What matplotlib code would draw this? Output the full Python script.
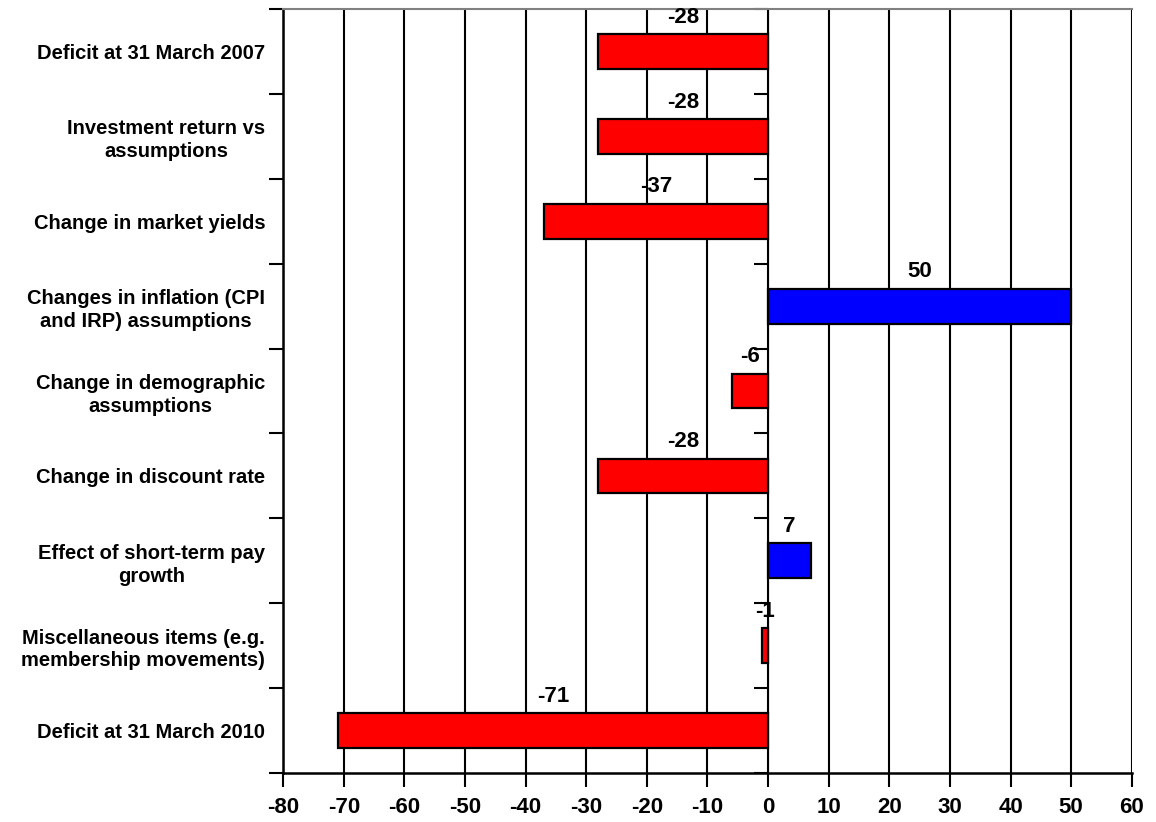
import numpy as np
import matplotlib
matplotlib.use("Agg")
import matplotlib.pyplot as plt

plt.rcParams["font.family"] = ["Liberation Sans", "DejaVu Sans"]
plt.rcParams["font.weight"] = "bold"

# -------- DATA --------
categories = [
    "Deficit at 31 March 2007",
    "Investment return vs\nassumptions",
    "Change in market yields",
    "Changes in inflation (CPI\nand IRP) assumptions",
    "Change in demographic\nassumptions",
    "Change in discount rate",
    "Effect of short-term pay\ngrowth",
    "Miscellaneous items (e.g.\nmembership movements)",
    "Deficit at 31 March 2010",
]
values = [-28, -28, -37, 50, -6, -28, 7, -1, -71]
x_ticks = list(range(-80, 61, 10))

XMIN, XMAX = -80, 60

fig = plt.figure(figsize=(11.56, 8.22), dpi=100)
ax = fig.add_axes([0.245, 0.0596, 0.734, 0.9294])

n = len(categories)
y = np.arange(n)
colors = ["#0000FF" if v > 0 else "#FF0000" for v in values]
ax.barh(y, values, height=0.41, color=colors, edgecolor="black", linewidth=1.6, zorder=3)

for yi, v in zip(y, values):
    ax.text(v / 2, yi - 0.28, str(v), ha="center", va="bottom",
            fontsize=16, fontweight="bold", zorder=4)

ax.set_xlim(XMIN, XMAX)
ax.set_ylim(n - 0.5, -0.5)
ax.set_xticks(x_ticks)
ax.set_xticklabels([str(t) for t in x_ticks], fontsize=16, fontweight="bold")
ax.xaxis.grid(True, color="black", linewidth=1.5, zorder=0)

# category boundaries get the tick marks, labels sit at the centres
ax.set_yticks(np.arange(-0.5, n, 1.0))
ax.set_yticklabels([])
ax.set_yticks(y, minor=True)
ax.set_yticklabels(categories, minor=True, fontsize=14.5, fontweight="bold",
                   multialignment="center", linespacing=1.25)
ax.tick_params(axis="y", which="minor", length=0, pad=13)
ax.tick_params(axis="y", which="major", length=10, width=1.5, direction="out")
ax.tick_params(axis="x", length=10, width=1.5, direction="out", pad=7)

# zero line acts as a second category axis, ticks pointing left
zero_axis = ax.secondary_yaxis((0 - XMIN) / (XMAX - XMIN))
zero_axis.set_yticks(np.arange(-0.5, n, 1.0))
zero_axis.set_yticklabels([])
zero_axis.tick_params(axis="y", length=10, width=1.5, direction="in")
zero_axis.spines["left"].set_linewidth(2)

ax.spines["top"].set_color("#808080")
ax.spines["top"].set_linewidth(1.5)
ax.spines["right"].set_visible(False)
ax.spines["left"].set_linewidth(1.8)
ax.spines["bottom"].set_linewidth(1.8)

fig.savefig("out.png", dpi=100)
